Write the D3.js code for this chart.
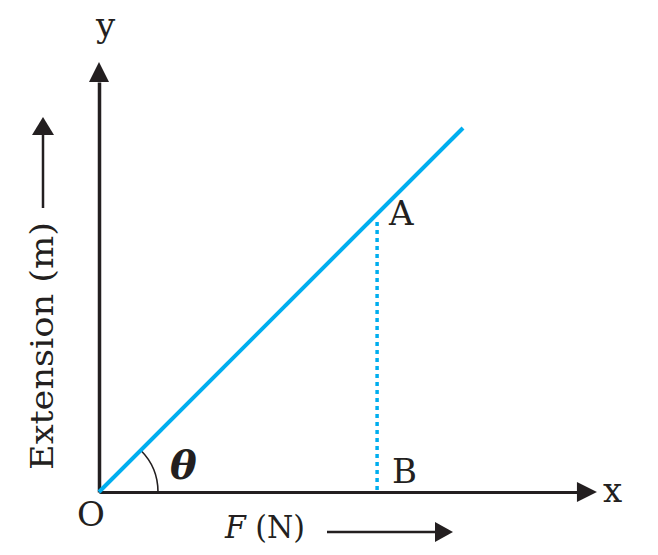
<!DOCTYPE html>
<html>
<head>
<meta charset="utf-8">
<style>
  body { margin: 0; background: #fff; }
  text { font-family: "DejaVu Serif", "Liberation Serif", serif; fill: #231f20; }
</style>
<script src="https://cdnjs.cloudflare.com/ajax/libs/d3/7.8.5/d3.min.js"></script>
</head>
<body>
<svg id="chart" width="658" height="555"></svg>
<script>
// line F vs extension (arbitrary units, 45 degree line)
var lineF = [0, 10];
var lineExt = [0, 10];
// labelled points O, A, B
var pointNames = ["O", "A", "B"];
var pointF = [0, 7.64, 7.64];
var pointExt = [0, 7.42, 0];
// axis ends (where the arrow tips sit)
var xMax = 13.68, yMax = 11.81;
var xTitle = "F", xUnit = " (N)", yTitle = "Extension (m)";

var svg = d3.select("#chart");
var ink = "#231f20", blue = "#00aeef";

var x = d3.scaleLinear().domain([0, 10]).range([99, 463]);
var y = d3.scaleLinear().domain([0, 10]).range([492, 128]);

var head = 20, half = 10;

// axes (no ticks, just the domain line)
var xAxis = d3.axisBottom(d3.scaleLinear().domain([0, xMax]).range([x(0), x(xMax) - head]))
  .tickValues([]).tickSizeOuter(0);
var yAxis = d3.axisLeft(d3.scaleLinear().domain([0, yMax]).range([y(0), y(yMax) + head]))
  .tickValues([]).tickSizeOuter(0);

svg.append("g").call(xAxis)
  .select(".domain").attr("stroke", ink).attr("stroke-width", 3).attr("transform", "translate(0," + y(0) + ")");
svg.append("g").call(yAxis)
  .select(".domain").attr("stroke", ink).attr("stroke-width", 3.5).attr("transform", "translate(" + x(0) + ",0)");

function arrow(tx, ty, dir) {
  // dir: "up" or "right"
  var p = dir == "up"
    ? [[tx, ty], [tx - half, ty + head], [tx + half, ty + head]]
    : [[tx, ty], [tx - head, ty - half], [tx - head, ty + half]];
  svg.append("path").attr("d", "M" + p.join("L") + "Z").attr("fill", ink);
}
arrow(x(0), y(yMax), "up");
arrow(x(xMax), y(0), "right");

// angle arc
var arc = d3.arc().innerRadius(59).outerRadius(59).startAngle(Math.PI / 4).endAngle(Math.PI / 2);
svg.append("path").attr("d", arc()).attr("transform", "translate(" + x(0) + "," + y(0) + ")")
  .attr("fill", "none").attr("stroke", ink).attr("stroke-width", 1.6);

// dotted drop line A -> B
svg.append("line")
  .attr("x1", x(pointF[1])).attr("y1", y(pointExt[1]))
  .attr("x2", x(pointF[2])).attr("y2", y(pointExt[2]))
  .attr("stroke", blue).attr("stroke-width", 3.5).attr("stroke-dasharray", "4,4");

// the main line
var line = d3.line().x(function(d, i) { return x(lineF[i]); }).y(function(d) { return y(d); });
svg.append("path").datum(lineExt).attr("d", line)
  .attr("fill", "none").attr("stroke", blue).attr("stroke-width", 4);

// point labels
var labelPos = [[77, 526], [389, 225], [392, 483]];
svg.selectAll(".pt").data(pointNames).enter().append("text")
  .attr("class", "pt")
  .attr("x", function(d, i) { return labelPos[i][0]; })
  .attr("y", function(d, i) { return labelPos[i][1]; })
  .attr("font-size", 34).text(function(d) { return d; });

// axis letters
svg.append("text").attr("x", 96).attr("y", 37).attr("font-size", 34).text("y");
svg.append("text").attr("x", 603).attr("y", 502).attr("font-size", 34).text("x");

// theta
svg.append("text").attr("x", 170).attr("y", 479).attr("font-size", 40)
  .attr("font-weight", "bold").attr("font-style", "italic").text("\u03b8");

// x title with arrow
var xt = svg.append("text").attr("x", 225).attr("y", 538).attr("font-size", 32)
  .attr("textLength", 80).attr("lengthAdjust", "spacingAndGlyphs");
xt.append("tspan").attr("font-style", "italic").text(xTitle);
xt.append("tspan").text(xUnit);
svg.append("line").attr("x1", 327).attr("y1", 532).attr("x2", 437).attr("y2", 532)
  .attr("stroke", ink).attr("stroke-width", 2.5);
svg.append("path").attr("d", "M453,532L435,522L435,542Z").attr("fill", ink);

// y title with arrow
svg.append("text").attr("transform", "translate(53,346) rotate(-90)")
  .attr("text-anchor", "middle").attr("font-size", 31)
  .attr("textLength", 248).attr("lengthAdjust", "spacingAndGlyphs").text(yTitle);
svg.append("line").attr("x1", 43).attr("y1", 208).attr("x2", 43).attr("y2", 133)
  .attr("stroke", ink).attr("stroke-width", 2.5);
svg.append("path").attr("d", "M43,117L32,135L54,135Z").attr("fill", ink);
</script>
</body>
</html>
